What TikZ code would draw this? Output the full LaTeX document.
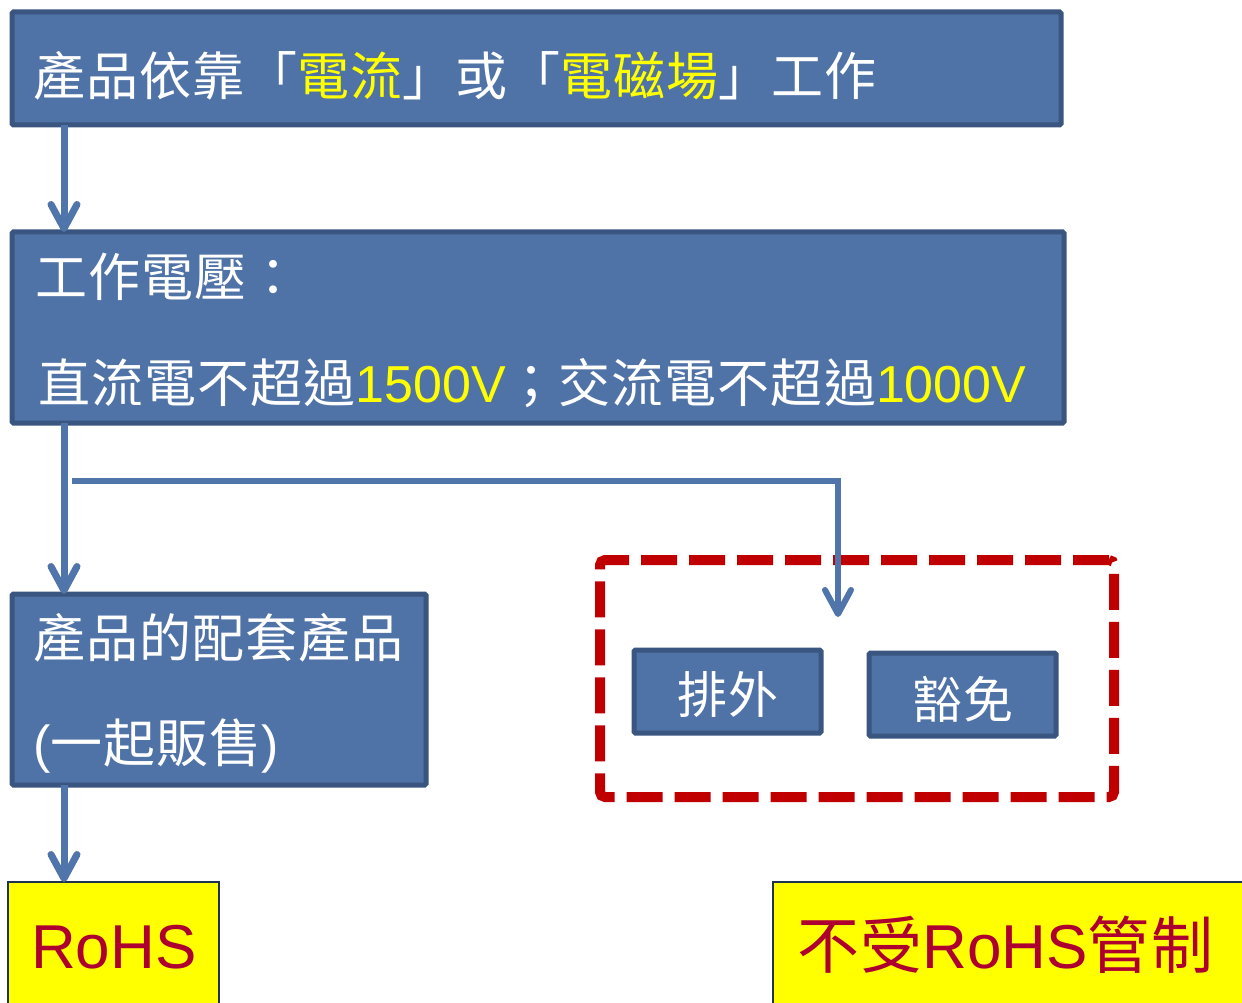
\documentclass[tikz,border=0pt]{standalone}
\usepackage{fontspec}
\setmainfont[LetterSpace=2]{Noto Sans CJK TC}
\newfontfamily\lat{Liberation Sans}
\usetikzlibrary{arrows.meta}
\definecolor{boxfill}{HTML}{4F72A7}
\definecolor{boxline}{HTML}{3A5580}
\definecolor{arrowc}{HTML}{5075AA}
\definecolor{yel}{HTML}{FFFF00}
\definecolor{dred}{HTML}{AE0030}
\definecolor{exred}{HTML}{C00000}
\definecolor{navy}{HTML}{1F3350}
\tikzset{
  bluebox/.style={draw=boxline, fill=boxfill, line width=5pt, rounded corners=1.5pt, anchor=north west, inner sep=0pt, outer sep=0pt},
  yelbox/.style={draw=navy, fill=yel, line width=2pt, anchor=north west, inner sep=0pt, outer sep=0pt},
  txt/.style={anchor=base west, inner sep=0pt, font=\fontsize{52}{60}\selectfont, text=white},
  rtxt/.style={anchor=base west, inner sep=0pt, text=dred},
  arr/.style={draw=arrowc, line width=7pt, -{Straight Barb[length=24pt,width=26pt,line cap=round,line join=round]}},
  exbox/.style={draw=exred, line width=10pt, dash pattern=on 36pt off 12pt, rounded corners=5pt, anchor=north west, inner sep=0pt, outer sep=0pt}
}
\begin{document}
\begin{tikzpicture}[x=1pt,y=-1pt]
\useasboundingbox[fill=white] (0,0) rectangle (1242,1003);
% boxes
\node[bluebox, minimum width=1049pt, minimum height=113pt] (b1) at (12,12) {};
\node[bluebox, minimum width=1052pt, minimum height=191pt] (b2) at (12,232) {};
\node[bluebox, minimum width=414pt, minimum height=191pt] (b3) at (12,594) {};
\node[exbox, minimum width=514pt, minimum height=237pt] (ex) at (600,560) {};
\node[bluebox, minimum width=187pt, minimum height=83pt] (s1) at (634,650) {};
\node[bluebox, minimum width=187pt, minimum height=83pt] (s2) at (869,653) {};
\node[yelbox, minimum width=211pt, minimum height=140pt] (r1) at (8,882) {};
\node[yelbox, minimum width=480pt, minimum height=140pt] (r2) at (773,882) {};
% texts
\node[txt] (t1) at (33,96) {產品依靠「{\color{yel}電流}」或「{\color{yel}電磁場}」工作};
\node[txt] (t2) at (35,296) {工作電壓：};
\node[txt] (t3) at (38,402) {直流電不超過{\lat\color{yel}1500V}；交流電不超過{\lat\color{yel}1000V}};
\node[txt] (t4) at (33,657) {產品的配套產品};
\node[txt] (t5) at (33,762) {{\lat(}一起販售{\lat)}};
\node[txt, font=\fontsize{50}{60}\selectfont] (t6) at (677,713) {排外};
\node[txt, font=\fontsize{50}{60}\selectfont] (t7) at (912,718) {豁免};
\node[rtxt, font=\lat\fontsize{62}{70}\selectfont] (t8) at (31,968) {RoHS};
\node[rtxt, font=\fontsize{62}{70}\selectfont] (t9) at (797,968) {不受{\lat RoHS}管制};
% connectors
\coordinate (sp) at (72,481);
\coordinate (tp) at (838,617);
\draw[arr] ([xshift=52pt]b1.south west) -- ([xshift=52pt]b2.north west);
\draw[arr] ([xshift=52pt]b2.south west) -- ([xshift=52pt]b3.north west);
\draw[arr] ([xshift=52pt]b3.south west) -- ([xshift=52pt]b3.south west |- r1.north);
\draw[arr, line width=6pt] (sp) -- (sp -| tp) -- (tp);
\end{tikzpicture}
\end{document}
